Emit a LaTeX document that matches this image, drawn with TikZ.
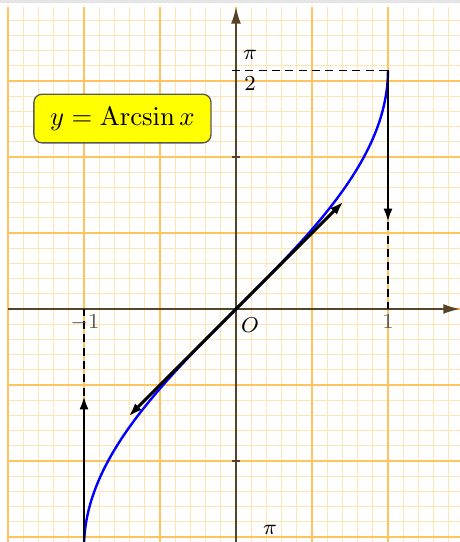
\documentclass[tikz,border=0pt]{standalone}
\usepackage{amsmath}
\usepackage{tikz}
\usetikzlibrary{arrows.meta}
\definecolor{GridMinor}{RGB}{255,228,180}
\definecolor{GridMajor}{RGB}{255,196,95}
\definecolor{AxisBrown}{RGB}{85,68,40}
\definecolor{BoxYellow}{RGB}{255,255,0}
\definecolor{CurveBlue}{RGB}{0,0,255}

\begin{document}
\begin{tikzpicture}[
    x=2cm, y=2cm,
    minorgrid/.style={draw=GridMinor, line width=0.4pt},
    majorgrid/.style={draw=GridMajor, line width=0.5pt},
    axis/.style={draw=AxisBrown, line width=0.55pt, -{Latex[length=2.2mm,width=1.3mm]}},
    curve/.style={draw=CurveBlue, line width=0.9pt},
    tang/.style={draw=black, line width=1.1pt, -{Latex[length=1.8mm,width=1.2mm]}},
    guide/.style={draw=black, line width=0.5pt, dash pattern=on 3pt off 2pt},
    lbl/.style={font=\footnotesize, inner sep=1pt},
    formula/.style={draw=black!65, fill=BoxYellow, rounded corners=3pt, line width=0.5pt,
      minimum width=2.33cm, minimum height=0.64cm, inner sep=0pt}
  ]
    \useasboundingbox (-1.5526,-1.5329) rectangle (1.4737,2.0329);
    \clip (-1.5526,-1.5329) rectangle (1.4737,2.0329);
    \fill[white] (-1.5526,-1.5329) rectangle (1.4737,2.0329);
    \fill[black!10] (-1.5526,2.0164) rectangle (1.4737,2.0329);
    \draw[minorgrid, step=0.1] (-1.5,-1.6) grid (1.55,1.987);
    \draw[majorgrid, step=0.5] (-1.5,-1.6) grid (1.55,1.987);
    \coordinate (xl) at (-1.5,0);
    \coordinate (xr) at (1.4737,0);
    \coordinate (yb) at (0,-1.6);
    \coordinate (yt) at (0,1.987);
    \coordinate (O) at (0,0);
    \coordinate (tp) at (0.7071,0.7071);
    \coordinate (tm) at (-0.7071,-0.7071);
    \coordinate (top) at (1,{pi/2});
    \coordinate (topend) at (1,{pi/2-1});
    \coordinate (bot) at (-1,{-pi/2});
    \coordinate (botend) at (-1,{-pi/2+1});
    \coordinate (xone) at (1,0);
    \coordinate (xmone) at (-1,0);
    \coordinate (yhalfpi) at (0,{pi/2});
    \draw[axis] (xl) -- (xr);
    \draw[axis] (yb) -- (yt);
    \draw[draw=AxisBrown, line width=0.55pt] (0,1) ++(-1.5pt,0) -- ++(3pt,0);
    \draw[draw=AxisBrown, line width=0.55pt] (0,-1) ++(-1.5pt,0) -- ++(3pt,0);
    \draw[guide] ([xshift=-1.5pt]yhalfpi) -- (top);
    \draw[guide] (topend) -- (xone);
    \draw[guide] (botend) -- (xmone);
    \draw[curve] plot[domain=-1.5708:1.5708, samples=120, smooth] ({sin(\x r)}, \x);
    \draw[tang] (O) -- (tp);
    \draw[tang] (O) -- (tm);
    \draw[tang] (top) -- (topend);
    \draw[tang] (bot) -- (botend);
    \node[lbl] (halfpi) at (0.092,{pi/2}) {$\genfrac{}{}{0pt}{0}{\pi}{2}$};
    \node[lbl] (origin) at (0.092,-0.105) {$O$};
    \node[lbl, text=black!65] (mone) at (-0.993,-0.092) {$-1$};
    \node[lbl, text=black!65] (one) at (1,-0.085) {$1$};
    \node[lbl] (pibot) at (0.224,-1.454) {$\pi$};
    \node[formula] (eqn) at (-0.747,1.253) {$y = \operatorname{Arcsin} x$};
  \end{tikzpicture}
\end{document}
